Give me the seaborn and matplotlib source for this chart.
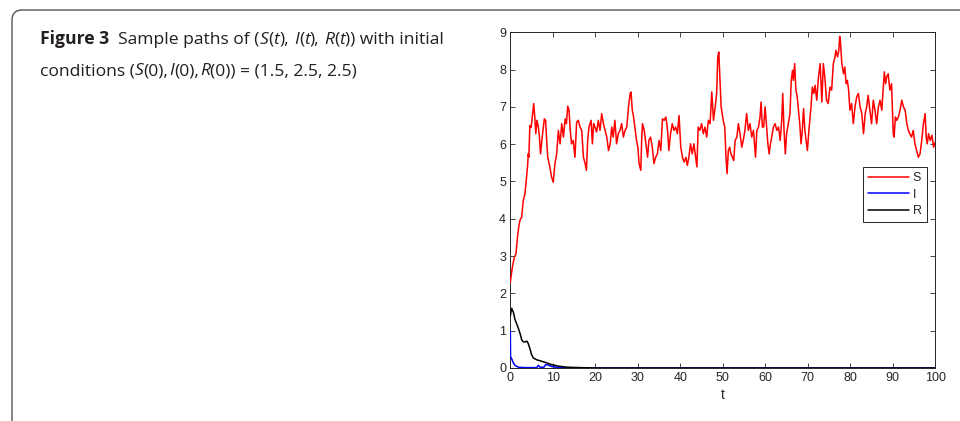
import numpy as np
import pandas as pd
import seaborn as sns
import matplotlib.pyplot as plt
from matplotlib.patches import FancyBboxPatch
from matplotlib.transforms import IdentityTransform

# ── DATA ───────────────────────────────────────────────
s_time = [0.0, 0.47, 0.94, 1.33, 1.73, 2.04, 2.27, 2.67, 3.06, 3.45, 3.84, 4.1, 4.2, 4.35, 4.6,
          4.9, 5.25, 5.5, 5.75, 6.0, 6.25, 6.6, 6.85, 7.1, 7.5, 8.0, 8.3, 8.55, 8.8, 9.3, 9.7,
          10.1, 10.5, 10.9, 11.3, 11.7, 12.1, 12.5, 12.9, 13.2, 13.5, 13.8, 14.1, 14.4, 14.8,
          15.2, 15.6, 16.0, 16.4, 16.8, 17.2, 17.6, 17.9, 18.2, 18.5, 19.0, 19.3, 19.6, 19.9,
          20.3, 20.7, 21.1, 21.5, 21.9, 22.3, 22.7, 23.1, 23.5, 23.85, 24.2, 24.6, 25.0, 25.4,
          25.8, 26.2, 26.6, 27.0, 27.4, 27.8, 28.2, 28.4, 28.7, 28.95, 29.3, 29.7, 30.0, 30.3,
          30.7, 30.9, 31.1, 31.5, 31.8, 32.0, 32.3, 32.6, 33.0, 33.4, 33.8, 34.2, 34.6, 35.0,
          35.4, 35.8, 36.2, 36.6, 37.0, 37.3, 37.7, 38.1, 38.5, 38.9, 39.3, 39.7, 40.1, 40.5,
          40.9, 41.3, 41.65, 42.0, 42.4, 42.8, 43.2, 43.6, 43.9, 44.2, 44.6, 45.0, 45.4, 45.8,
          46.2, 46.6, 47.0, 47.4, 47.8, 48.2, 48.55, 48.8, 49.05, 49.3, 49.6, 49.85, 50.1, 50.45,
          50.75, 51.0, 51.3, 51.6, 51.9, 52.25, 52.55, 52.9, 53.3, 53.65, 54.05, 54.45, 54.8,
          55.2, 55.6, 56.0, 56.4, 56.8, 57.2, 57.7, 58.0, 58.4, 58.75, 59.0, 59.3, 59.6, 59.95,
          60.3, 60.6, 60.9, 61.2, 61.5, 61.9, 62.3, 62.7, 63.1, 63.5, 63.85, 64.1, 64.4, 64.7,
          65.0, 65.4, 65.8, 66.1, 66.4, 66.6, 66.9, 67.2, 67.5, 67.8, 68.1, 68.4, 68.7, 69.0,
          69.3, 69.6, 69.9, 70.25, 70.75, 71.05, 71.4, 71.7, 72.1, 72.5, 72.9, 73.3, 73.65,
          74.0, 74.4, 74.8, 75.2, 75.6, 76.0, 76.4, 76.6, 77.0, 77.3, 77.5, 77.7, 78.0, 78.4,
          78.7, 79.0, 79.3, 79.6, 79.9, 80.3, 80.7, 81.1, 81.5, 81.9, 82.3, 82.7, 83.1, 83.5,
          83.85, 84.2, 84.6, 85.0, 85.4, 85.8, 86.2, 86.6, 87.0, 87.4, 87.8, 88.0, 88.3, 88.55,
          88.9, 89.3, 89.7, 90.1, 90.3, 90.6, 90.9, 91.3, 91.7, 92.1, 92.5, 92.9, 93.3, 93.65,
          94.0, 94.4, 94.8, 95.2, 95.6, 96.0, 96.4, 96.8, 97.2, 97.6, 97.85, 98.1, 98.4, 98.8,
          99.2, 99.6, 100.0]
s_value = [2.3, 2.7, 2.97, 3.06, 3.56, 3.83, 3.96, 4.05, 4.5, 4.68, 5.14, 5.48, 5.74, 5.65, 6.5,
           6.45, 6.82, 7.09, 6.73, 6.28, 6.64, 6.46, 6.19, 5.74, 6.19, 6.68, 6.64, 6.1, 5.65,
           5.39, 5.12, 4.98, 5.48, 5.74, 6.37, 6.01, 6.55, 6.19, 6.68, 6.55, 7.02, 6.91, 6.37,
           6.01, 6.1, 5.65, 6.59, 6.64, 6.46, 6.37, 5.65, 5.48, 5.3, 6.1, 6.46, 6.64, 6.01,
           6.55, 6.46, 6.33, 6.64, 6.37, 6.82, 6.55, 6.37, 6.19, 5.83, 6.01, 6.46, 6.19, 6.64,
           6.01, 6.28, 6.37, 6.55, 6.19, 6.37, 6.46, 7.0, 7.36, 7.4, 6.91, 6.77, 6.46, 6.1,
           5.92, 5.48, 5.3, 6.1, 6.55, 6.37, 6.1, 5.92, 5.65, 6.1, 6.19, 5.92, 5.48, 5.65,
           5.74, 6.1, 5.83, 6.68, 6.64, 6.73, 6.37, 5.83, 6.28, 6.55, 6.37, 6.46, 6.28, 6.77,
           5.92, 5.65, 5.52, 5.65, 5.43, 5.65, 6.01, 5.74, 6.01, 5.65, 5.39, 6.46, 6.37, 6.55,
           6.28, 6.46, 6.19, 6.64, 6.55, 7.4, 6.64, 7.0, 7.36, 8.34, 8.47, 7.8, 7.0, 6.82,
           6.64, 6.46, 5.65, 5.21, 5.83, 5.92, 5.74, 5.65, 5.56, 6.1, 6.19, 6.55, 6.28, 5.92,
           6.1, 6.37, 6.82, 6.37, 6.55, 6.19, 6.37, 5.65, 6.37, 6.46, 6.73, 7.13, 6.46, 6.46,
           7.0, 6.46, 6.01, 5.74, 6.01, 6.19, 6.46, 6.55, 6.37, 6.46, 6.1, 6.64, 7.36, 6.37,
           5.74, 6.28, 6.55, 6.82, 7.71, 7.98, 7.71, 8.16, 7.45, 7.27, 6.91, 6.55, 6.01, 6.37,
           6.95, 6.37, 6.1, 5.83, 6.37, 7.0, 7.53, 7.36, 7.58, 7.18, 7.8, 8.16, 7.13, 8.16,
           7.8, 7.18, 7.09, 7.53, 7.45, 8.16, 8.34, 8.52, 8.34, 8.52, 8.89, 8.7, 8.16, 7.89,
           8.07, 7.62, 7.71, 7.45, 6.91, 7.09, 6.55, 7.0, 7.27, 7.36, 7.0, 6.82, 6.28, 6.82,
           7.0, 7.31, 6.91, 6.55, 7.18, 6.91, 6.55, 7.0, 7.18, 6.91, 7.62, 7.94, 7.62, 7.8,
           7.89, 7.45, 7.62, 6.28, 6.19, 6.73, 6.64, 6.73, 6.91, 7.18, 7.0, 6.91, 6.55, 6.37,
           6.28, 6.19, 6.37, 6.01, 5.83, 5.65, 5.74, 6.1, 6.55, 6.82, 6.19, 6.01, 6.28, 6.1,
           6.24, 5.92, 6.06]

i_time = [0.0, 0.05, 0.3, 0.7, 1.1, 1.9, 3.45, 6.2, 6.6, 7.0, 7.9, 8.3, 8.9, 9.7, 11.3, 15.0, 100.0]
i_value = [1.0, 0.3, 0.25, 0.14, 0.07, 0.02, 0.01, 0.01, 0.07, 0.02, 0.02, 0.09, 0.08, 0.04, 0.01, 0.0, 0.0]

r_time = [0.0, 0.3, 0.7, 1.1, 1.5, 1.9, 2.3, 2.7, 3.1, 3.5, 3.9, 4.2, 4.6, 5.0, 5.4, 6.2, 7.4,
          8.5, 9.7, 11.3, 13.5, 16.5, 20.0, 100.0]
r_value = [1.4, 1.6, 1.5, 1.3, 1.18, 1.06, 0.92, 0.75, 0.7, 0.7, 0.72, 0.66, 0.52, 0.36, 0.27,
           0.22, 0.18, 0.14, 0.09, 0.05, 0.02, 0.01, 0.0, 0.0]

x_ticks = list(range(0, 101, 10))
y_ticks = list(range(0, 10))

# ── STYLE ──────────────────────────────────────────────
sns.set_style("ticks")
plt.rcParams["font.family"] = ["Liberation Sans", "DejaVu Sans"]

fig = plt.figure(figsize=(9.6, 4.21), dpi=100)
ax = fig.add_axes([0.5316, 0.1259, 0.4427, 0.7974])

sns.lineplot(x=s_time, y=s_value, color="#ff0000", lw=1.1, label="S", ax=ax,
             estimator=None, sort=False, zorder=3)
sns.lineplot(x=i_time, y=i_value, color="#0000ff", lw=1.1, label="I", ax=ax,
             estimator=None, sort=False, zorder=3)
sns.lineplot(x=r_time, y=r_value, color="#000000", lw=1.1, label="R", ax=ax,
             estimator=None, sort=False, zorder=3)

ax.set_xlim(0, 100)
ax.set_ylim(0, 9)
ax.set_xticks(x_ticks)
ax.set_yticks(y_ticks)
ax.tick_params(direction="in", top=True, right=True, length=3.5, width=0.6,
               labelsize=9, colors="#262626", pad=3)
for sp in ax.spines.values():
    sp.set_visible(True)
    sp.set_color("#262626")
    sp.set_linewidth(0.7)
ax.set_xlabel("t", fontsize=10, color="#262626", labelpad=3)
ax.set_ylabel("")

leg = ax.legend(loc="upper right", bbox_to_anchor=(0.98, 0.598), fontsize=9,
                handlelength=3.3, handletextpad=0.3, borderpad=0.4,
                labelspacing=0.35, fancybox=False, framealpha=1, borderaxespad=0)
leg.get_frame().set_edgecolor("#262626")
leg.get_frame().set_linewidth(0.7)

# ── FRAME + CAPTION ────────────────────────────────────
box = FancyBboxPatch((12, -10), 1200, 421, boxstyle="round,pad=0,rounding_size=10",
                     transform=IdentityTransform(), fill=False, edgecolor="#555555", lw=1.0)
fig.add_artist(box)

cap_font = "Open Sans"
cap_size = 12.6
renderer = fig.canvas.get_renderer()


def draw_line(pieces, x0, y0):
    # each piece: text, weight, style, extra gap in px after it
    x = x0
    for txt, weight, style, gap in pieces:
        t = fig.text(x, y0, txt, transform=IdentityTransform(), fontsize=cap_size,
                     family=cap_font, weight=weight, style=style, color="#231f20",
                     va="baseline")
        bb = t.get_window_extent(renderer=renderer)
        x = bb.x1 + gap


n, it = "normal", "italic"
line1 = [("Figure 3", "bold", n, 0), ("  Sample paths of (", n, n, 0), ("S", n, it, 0),
         ("(", n, n, 0), ("t", n, it, 0), ("),", n, n, 5), ("I", n, it, 0), ("(", n, n, 0),
         ("t", n, it, 0), ("),", n, n, 5), ("R", n, it, 0), ("(", n, n, 0), ("t", n, it, 0),
         (")) with initial", n, n, 0)]
line2 = [("conditions (", n, n, 0), ("S", n, it, 0), ("(0),", n, n, 1), ("I", n, it, 0),
         ("(0),", n, n, 1), ("R", n, it, 0), ("(0)) = (1.5, 2.5, 2.5)", n, n, 0)]
draw_line(line1, 40, 421 - 44)
draw_line(line2, 40, 421 - 75)

fig.savefig("out.png", dpi=100)
